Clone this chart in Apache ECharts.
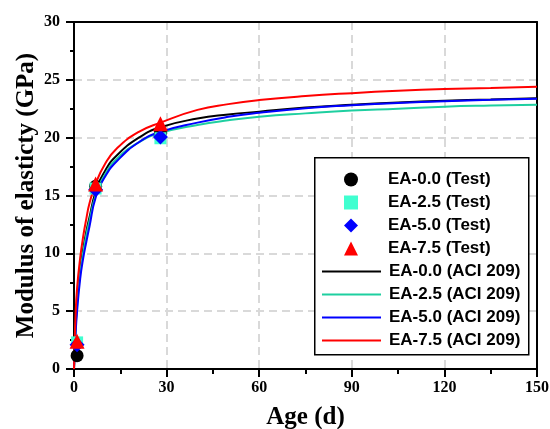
<!DOCTYPE html>
<html>
<head>
<meta charset="utf-8">
<title>Modulus of elasticity vs age</title>
<script src="https://cdn.jsdelivr.net/npm/echarts@6/dist/echarts.min.js"></script>
<style>
  html, body { margin: 0; padding: 0; background: #fff; }
  #chart { width: 550px; height: 429px; }
</style>
</head>
<body>
<div id="chart"></div>
<script>
// Measured modulus (GPa) at test ages (days)
const testAges = [1, 7, 28];
const testEA00 = [1.15, 15.8, 20.4];
const testEA25 = [2.3, 15.6, 19.95];
const testEA50 = [2.1, 15.5, 20.05];
const testEA75 = [2.4, 16.0, 21.2];

// ACI 209 prediction curves (GPa) sampled at these ages (days)
const curveAges = [0, 0.5, 1, 2, 3, 4, 5, 7, 10, 14, 21, 28, 40, 50, 60, 75, 90, 105, 120, 135, 150];
const aciEA00 = [0, 3.6, 5.8, 8.6, 10.4, 11.9, 13.1, 15.3, 17.1, 18.5, 20.0, 20.9, 21.65, 22.0, 22.25, 22.6, 22.85, 23.05, 23.2, 23.3, 23.4];
const aciEA25 = [0, 3.4, 5.5, 8.3, 10.1, 11.6, 12.8, 15.0, 16.8, 18.2, 19.6, 20.4, 21.1, 21.5, 21.8, 22.1, 22.35, 22.5, 22.68, 22.78, 22.85];
const aciEA50 = [0, 3.0, 5.0, 7.8, 9.6, 11.0, 12.3, 14.8, 16.6, 18.0, 19.6, 20.5, 21.3, 21.8, 22.15, 22.55, 22.8, 23.0, 23.15, 23.27, 23.37];
const aciEA75 = [0, 4.6, 7.0, 9.6, 11.5, 13.0, 14.3, 16.0, 17.7, 19.1, 20.5, 21.3, 22.4, 22.9, 23.25, 23.6, 23.85, 24.05, 24.2, 24.3, 24.4];

const xTicks = [0, 30, 60, 90, 120, 150];
const yTicks = [0, 5, 10, 15, 20, 25, 30];

const testNames = ['EA-0.0 (Test)', 'EA-2.5 (Test)', 'EA-5.0 (Test)', 'EA-7.5 (Test)'];
const aciNames = ['EA-0.0 (ACI 209)', 'EA-2.5 (ACI 209)', 'EA-5.0 (ACI 209)', 'EA-7.5 (ACI 209)'];

const pair = (xs, ys) => xs.map((x, i) => [x, ys[i]]);

const SERIF = 'Liberation Serif, Times New Roman, serif';
const SANS = 'Liberation Sans, Arial, sans-serif';

const cBlack = '#000000';
const cCyan = '#40FFD0';
const cGreen = '#1ECFA0';
const cBlue = '#0000FF';
const cRed = '#FF0000';

const lineSeries = (name, ys, color) => ({
  name, type: 'line', data: pair(curveAges, ys),
  smooth: 0.5, symbol: 'none', z: 2,
  lineStyle: { color, width: 2 }, itemStyle: { color }
});
const markSeries = (name, ys, color, symbol, size) => ({
  name, type: 'scatter', data: pair(testAges, ys),
  symbol, symbolSize: size, symbolKeepAspect: true, z: 5,
  itemStyle: { color, opacity: 1 }
});

const axisText = { fontFamily: SERIF, fontWeight: 'bold', fontSize: 16, color: '#000' };
const nameText = { fontFamily: SERIF, fontWeight: 'bold', fontSize: 25, color: '#000' };
const blackLine = { color: '#000', width: 2 };
const gridLine = { show: true, showMinLine: false, showMaxLine: false, lineStyle: { color: '#D9D9D9', width: 2, type: [8, 5] } };

// Plain frame lines along the top and right of the plot
const frameAxis = (position, min, max) => ({
  type: 'value', position, min, max,
  axisLine: { show: true, onZero: false, lineStyle: blackLine },
  axisTick: { show: false }, axisLabel: { show: false }, splitLine: { show: false }
});

// Shared legend styling; the two legends stack inside one framed box
const legendBase = {
  orient: 'vertical', padding: 0, itemGap: 6, itemHeight: 14, align: 'left'
};
const legendText = (padLeft) => ({
  fontFamily: SANS, fontWeight: 'bold', fontSize: 17, color: '#000', padding: [0, 0, 0, padLeft]
});

const chart = echarts.init(document.getElementById('chart'), null, { renderer: 'canvas' });
chart.setOption({
  animation: false,
  backgroundColor: '#fff',
  grid: { left: 74, right: 13, top: 22, bottom: 60, containLabel: false, outerBoundsMode: 'none' },
  xAxis: [{
    type: 'value', min: xTicks[0], max: xTicks[xTicks.length - 1], interval: 30,
    name: 'Age (d)', nameLocation: 'middle', nameGap: 36, nameMoveOverlap: false, nameTextStyle: nameText,
    axisLine: { show: true, onZero: false, lineStyle: blackLine },
    axisTick: { show: true, inside: false, length: 8, lineStyle: blackLine },
    minorTick: { show: true, splitNumber: 2, length: 5, lineStyle: blackLine },
    axisLabel: Object.assign({ margin: 11 }, axisText),
    splitLine: gridLine
  }, frameAxis('top', xTicks[0], xTicks[xTicks.length - 1])],
  yAxis: [{
    type: 'value', min: yTicks[0], max: yTicks[yTicks.length - 1], interval: 5,
    name: 'Modulus of elasticty (GPa)', nameLocation: 'middle', nameGap: 35, nameMoveOverlap: false, nameTextStyle: nameText,
    axisLine: { show: true, onZero: false, lineStyle: blackLine },
    axisTick: { show: true, inside: false, length: 8, lineStyle: blackLine },
    minorTick: { show: true, splitNumber: 2, length: 4, lineStyle: blackLine },
    axisLabel: Object.assign({ margin: 14 }, axisText),
    splitLine: gridLine
  }, frameAxis('right', yTicks[0], yTicks[yTicks.length - 1])],
  graphic: [{
    type: 'rect', left: 314, top: 157, z: 3,
    shape: { width: 214, height: 197 },
    style: { fill: '#fff', stroke: '#000', lineWidth: 1.5 }
  }],
  legend: [
    Object.assign({}, legendBase, {
      left: 344, top: 171, itemWidth: 14, z: 6,
      textStyle: legendText(25),
      data: testNames
    }),
    Object.assign({}, legendBase, {
      left: 321, top: 263, itemWidth: 59, z: 6,
      textStyle: legendText(3),
      data: aciNames.map((name) => ({ name, itemStyle: { opacity: 0 } }))
    })
  ],
  series: [
    lineSeries(aciNames[0], aciEA00, cBlack),
    lineSeries(aciNames[1], aciEA25, cGreen),
    lineSeries(aciNames[2], aciEA50, cBlue),
    lineSeries(aciNames[3], aciEA75, cRed),
    markSeries(testNames[0], testEA00, cBlack, 'circle', 13),
    markSeries(testNames[1], testEA25, cCyan, 'rect', 12),
    markSeries(testNames[2], testEA50, cBlue, 'diamond', 15),
    markSeries(testNames[3], testEA75, cRed, 'triangle', 15)
  ]
});
</script>
</body>
</html>
